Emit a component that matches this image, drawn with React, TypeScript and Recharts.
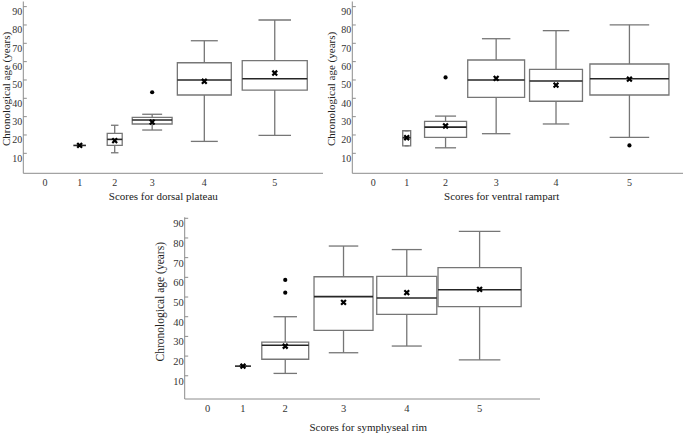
import React from 'react';
import { ComposedChart, XAxis, YAxis, Scatter, ReferenceArea, ReferenceLine } from 'recharts';

// ---------- data ----------
const scoreLabels = ['0', '1', '2', '3', '4', '5'];
const yTicks = [10, 20, 30, 40, 50, 60, 70, 80, 90];

// Dorsal plateau (scores 1..5)
const dorsalLow = [14.3, 10.3, 22.7, 16.5, 19.8];
const dorsalQ1 = [14.3, 14.3, 26.0, 41.8, 44.5];
const dorsalMedian = [14.3, 17.6, 28.2, 50.0, 50.7];
const dorsalQ3 = [14.3, 20.9, 29.6, 59.4, 60.5];
const dorsalHigh = [14.3, 25.3, 31.3, 71.4, 82.7];
const dorsalMean = [14.3, 16.9, 27.0, 49.3, 53.8];
const dorsalOutlierScores = [3];
const dorsalOutlierAges = [43.3];

// Ventral rampart (scores 1..5)
const ventralLow = [14.1, 13.0, 20.7, 26.0, 18.7];
const ventralQ1 = [14.1, 18.7, 40.5, 38.4, 41.8];
const ventralMedian = [18.5, 24.3, 50.0, 49.4, 50.7];
const ventralQ3 = [22.3, 27.4, 60.9, 55.8, 58.7];
const ventralHigh = [22.3, 30.3, 72.5, 76.9, 80.1];
const ventralMean = [18.5, 24.9, 50.9, 47.2, 50.5];
const ventralOutlierScores = [2, 5];
const ventralOutlierAges = [51.4, 14.3];

// Symphyseal rim (scores 1..5)
const symphLow = [14.9, 11.2, 21.7, 25.1, 18.1];
const symphQ1 = [14.9, 18.4, 33.1, 41.2, 45.1];
const symphMedian = [14.9, 25.5, 50.2, 49.5, 53.7];
const symphQ3 = [14.9, 27.1, 60.3, 60.5, 64.9];
const symphHigh = [14.9, 40.0, 75.9, 74.1, 83.4];
const symphMean = [14.9, 25.0, 47.3, 52.2, 53.9];
const symphOutlierScores = [2, 2];
const symphOutlierAges = [58.7, 52.2];

// ---------- layout (category slot positions / box widths on a 0..100 position axis) ----------
const dorsalSlots = [7.24, 18.8, 30.5, 43.0, 60.4, 83.9];
const dorsalBoxW = [0, 4.2, 5.0, 13.3, 18.0, 21.7];
const ventralSlots = [6.35, 16.45, 28.2, 43.5, 61.6, 83.8];
const ventralBoxW = [0, 2.4, 12.7, 17.2, 16.0, 23.9];
const symphSlots = [6.47, 16.4, 28.3, 44.7, 62.5, 83.0];
const symphBoxW = [0, 4.5, 13.2, 16.6, 16.9, 23.4];

const FONT = "'Liberation Serif', 'Times New Roman', 'DejaVu Serif', serif";
const AXIS = '#8c8c8c';
const BOX = '#767676';
const MED = '#262626';

type PanelProps = {
  title: string;
  left: number; top: number; width: number; height: number;
  margin: { top: number; right: number; bottom: number; left: number };
  yAxisWidth: number; xAxisHeight: number;
  yDomain: [number, number];
  slots: number[]; boxW: number[];
  low: number[]; q1: number[]; median: number[]; q3: number[]; high: number[]; mean: number[];
  outScores: number[]; outAges: number[];
  yTitle: { x: number; y: number; size: number };
  xTitle: { x: number; y: number; size: number };
  tickFont: number;
  yLabelDy: number;
};

const MeanMark = (props: any) => {
  const { cx, cy } = props;
  if (cx == null || cy == null) return null;
  const s = 2.4;
  return (
    <path
      d={`M${cx - s},${cy - s}L${cx + s},${cy + s}M${cx + s},${cy - s}L${cx - s},${cy + s}`}
      stroke="#000"
      strokeWidth={2.2}
      fill="none"
    />
  );
};

const OutlierMark = (props: any) => {
  const { cx, cy } = props;
  if (cx == null || cy == null) return null;
  return <circle cx={cx} cy={cy} r={2.1} fill="#000" />;
};

function Panel(p: PanelProps) {
  const ticks = p.slots;
  const means = p.mean.map((m, i) => ({ x: p.slots[i + 1], y: m }));
  const outs = p.outScores.map((s, i) => ({ x: p.slots[s], y: p.outAges[i] }));

  const YTick = (tp: any) => {
    const { x, y, payload } = tp;
    return (
      <g>
        <line x1={x} x2={x + 3.5} y1={y} y2={y} stroke={AXIS} strokeWidth={1} />
        <text x={x - 1} y={y + p.yLabelDy} textAnchor="end" dominantBaseline="central"
          style={{ fontFamily: FONT, fontSize: p.tickFont }} fill="#333">{payload.value}</text>
      </g>
    );
  };
  const XTick = (tp: any) => {
    const { x, y, payload } = tp;
    const idx = ticks.indexOf(payload.value);
    return (
      <text x={x} y={y + 9.5} textAnchor="middle" dominantBaseline="central"
        style={{ fontFamily: FONT, fontSize: p.tickFont }} fill="#333">{scoreLabels[idx]}</text>
    );
  };

  const elems: React.ReactNode[] = [];
  p.low.forEach((lo, i) => {
    const c = p.slots[i + 1];
    const w = p.boxW[i + 1];
    const common = { stroke: BOX, strokeWidth: 1.3, ifOverflow: 'visible' as const };
    elems.push(<ReferenceLine key={`wl${i}`} segment={[{ x: c, y: lo }, { x: c, y: p.q1[i] }]} {...common} />);
    elems.push(<ReferenceLine key={`wh${i}`} segment={[{ x: c, y: p.q3[i] }, { x: c, y: p.high[i] }]} {...common} />);
    elems.push(<ReferenceLine key={`cl${i}`} segment={[{ x: c - w / 4, y: lo }, { x: c + w / 4, y: lo }]} {...common} />);
    elems.push(<ReferenceLine key={`ch${i}`} segment={[{ x: c - w / 4, y: p.high[i] }, { x: c + w / 4, y: p.high[i] }]} {...common} />);
    elems.push(
      <ReferenceArea key={`b${i}`} x1={c - w / 2} x2={c + w / 2} y1={p.q1[i]} y2={p.q3[i]}
        fill="#fff" fillOpacity={1} stroke={BOX} strokeWidth={1.3} ifOverflow="visible" />
    );
  });
  const medians = p.median.map((m, i) => {
    const c = p.slots[i + 1];
    const w = p.boxW[i + 1];
    return (
      <ReferenceLine key={`m${i}`} segment={[{ x: c - w / 2, y: m }, { x: c + w / 2, y: m }]}
        stroke={MED} strokeWidth={1.6} ifOverflow="visible" />
    );
  });

  return (
    <div style={{ position: 'absolute', left: p.left, top: p.top, width: p.width, height: p.height }}>
      <ComposedChart width={p.width} height={p.height} margin={p.margin} style={{ fontFamily: FONT }}>
        <XAxis
          type="number"
          dataKey="x"
          domain={[0, 100]}
          allowDataOverflow
          ticks={ticks}
          interval={0}
          height={p.xAxisHeight}
          tickSize={0}
          tickMargin={0}
          tickLine={false}
          axisLine={{ stroke: AXIS, strokeWidth: 1 }}
          tick={<XTick />}
          label={{
            content: () => (
              <text x={p.xTitle.x} y={p.xTitle.y} textAnchor="middle" dominantBaseline="central"
                style={{ fontFamily: FONT, fontSize: p.xTitle.size }} fill="#222">{p.title}</text>
            ),
          }}
        />
        <YAxis
          type="number"
          dataKey="y"
          domain={p.yDomain}
          allowDataOverflow
          ticks={yTicks}
          interval={0}
          width={p.yAxisWidth}
          tickSize={0}
          tickMargin={0}
          tickLine={false}
          axisLine={{ stroke: AXIS, strokeWidth: 1 }}
          tick={<YTick />}
          label={{
            content: () => (
              <text x={p.yTitle.x} y={p.yTitle.y} textAnchor="middle" dominantBaseline="central"
                transform={`rotate(-90 ${p.yTitle.x} ${p.yTitle.y})`}
                style={{ fontFamily: FONT, fontSize: p.yTitle.size }} fill="#222">Chronological age (years)</text>
            ),
          }}
        />
        {elems}
        {medians}
        <Scatter data={means} shape={<MeanMark />} isAnimationActive={false} />
        <Scatter data={outs} shape={<OutlierMark />} isAnimationActive={false} />
      </ComposedChart>
    </div>
  );
}

export default function App() {
  return (
    <div style={{ position: 'absolute', left: 0, top: 0, width: 685, height: 433, background: '#fff', overflow: 'hidden', fontFamily: FONT }}>
      <Panel
        title="Scores for dorsal plateau"
        left={0} top={0} width={330} height={210}
        margin={{ top: 1.5, right: 7, bottom: 0, left: 0 }}
        yAxisWidth={23.3} xAxisHeight={36.7}
        yDomain={[-0.9, 92.8]}
        slots={dorsalSlots} boxW={dorsalBoxW}
        low={dorsalLow} q1={dorsalQ1} median={dorsalMedian} q3={dorsalQ3} high={dorsalHigh} mean={dorsalMean}
        outScores={dorsalOutlierScores} outAges={dorsalOutlierAges}
        yTitle={{ x: 5.5, y: 89, size: 11 }}
        xTitle={{ x: 163.3, y: 196, size: 11 }}
        tickFont={10}
        yLabelDy={5}
      />
      <Panel
        title="Scores for ventral rampart"
        left={325} top={0} width={360} height={210}
        margin={{ top: 1.5, right: 2, bottom: 0, left: 0 }}
        yAxisWidth={27.3} xAxisHeight={36.7}
        yDomain={[-0.9, 92.8]}
        slots={ventralSlots} boxW={ventralBoxW}
        low={ventralLow} q1={ventralQ1} median={ventralMedian} q3={ventralQ3} high={ventralHigh} mean={ventralMean}
        outScores={ventralOutlierScores} outAges={ventralOutlierAges}
        yTitle={{ x: 5.5, y: 89, size: 11 }}
        xTitle={{ x: 176.7, y: 196, size: 11 }}
        tickFont={10}
        yLabelDy={5}
      />
      <Panel
        title="Scores for symphyseal rim"
        left={150} top={210} width={400} height={223}
        margin={{ top: 7.3, right: 10, bottom: 0, left: 0 }}
        yAxisWidth={34.7} xAxisHeight={34}
        yDomain={[-1.8, 90.5]}
        slots={symphSlots} boxW={symphBoxW}
        low={symphLow} q1={symphQ1} median={symphMedian} q3={symphQ3} high={symphHigh} mean={symphMean}
        outScores={symphOutlierScores} outAges={symphOutlierAges}
        yTitle={{ x: 10, y: 91.7, size: 11.5 }}
        xTitle={{ x: 218.3, y: 216.7, size: 11 }}
        tickFont={10.5}
        yLabelDy={5.5}
      />
    </div>
  );
}
